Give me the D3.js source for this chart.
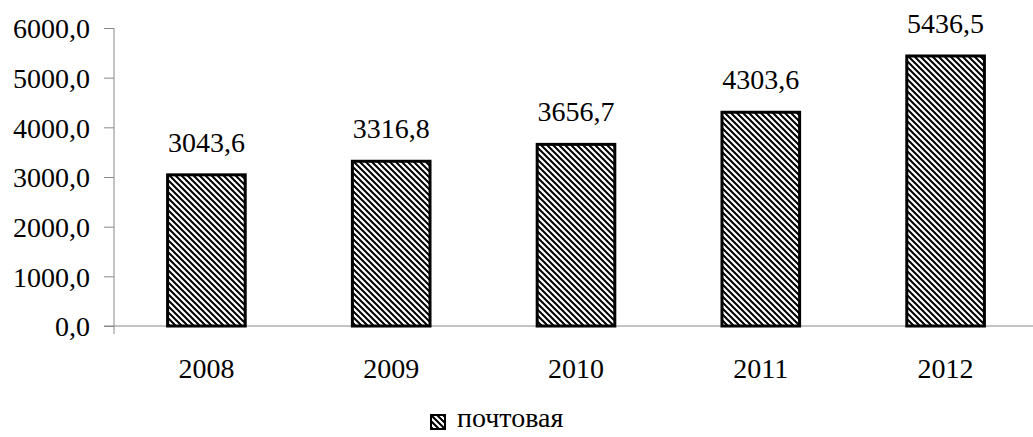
<!DOCTYPE html>
<html>
<head>
<meta charset="utf-8">
<script src="https://cdn.jsdelivr.net/npm/d3@7"></script>
<style>
  body { margin: 0; background: #fff; }
</style>
</head>
<body>
<svg width="1033" height="437"></svg>
<script>
const years = ["2008", "2009", "2010", "2011", "2012"];
const values = [3043.6, 3316.8, 3656.7, 4303.6, 5436.5];
const yTicks = [0, 1000, 2000, 3000, 4000, 5000, 6000];
const seriesName = "почтовая";

const svg = d3.select("svg");
const fmt = v => d3.format(".1f")(v).replace(".", ",");
const FONT = "'Liberation Serif', 'Times New Roman', serif";
const FS = "28px";

// hatch pattern
const pat = svg.append("defs")
  .append("pattern")
  .attr("id", "hatch")
  .attr("patternUnits", "userSpaceOnUse")
  .attr("width", 6)
  .attr("height", 6);
pat.append("rect").attr("width", 6).attr("height", 6).attr("fill", "#fff");
pat.append("path")
  .attr("d", "M-1,-1 L7,7 M-4,2 L1,7 M2,-4 L7,1")
  .attr("stroke", "#000")
  .attr("stroke-width", 2);

const x = d3.scaleBand()
  .domain(years)
  .range([114, 1038])
  .paddingInner(0.58)
  .paddingOuter(0.29);

const y = d3.scaleLinear()
  .domain([0, 6000])
  .range([326, 28]);

// y axis
const axisY = d3.axisLeft(y)
  .tickValues(yTicks)
  .tickSize(10)
  .tickPadding(14)
  .tickFormat(fmt);

const gy = svg.append("g")
  .attr("transform", "translate(114,0)")
  .call(axisY);
gy.select(".domain").remove();
gy.append("line")
  .attr("x1", 0).attr("x2", 0)
  .attr("y1", 28).attr("y2", 334)
  .attr("stroke", "#888");
gy.selectAll(".tick line").attr("stroke", "#888");
gy.selectAll(".tick text")
  .style("font-family", FONT)
  .style("font-size", FS)
  .attr("fill", "#000")
  .attr("dy", "0.35em");

// x axis line
svg.append("line")
  .attr("x1", 104).attr("x2", 1033)
  .attr("y1", 326).attr("y2", 326)
  .attr("stroke", "#888");

// x labels
svg.selectAll("text.year")
  .data(years)
  .enter()
  .append("text")
  .attr("class", "year")
  .attr("x", d => x(d) + x.bandwidth() / 2)
  .attr("y", 378)
  .attr("text-anchor", "middle")
  .style("font-family", FONT)
  .style("font-size", FS)
  .text(d => d);

// bars
svg.selectAll("rect.bar")
  .data(values)
  .enter()
  .append("rect")
  .attr("class", "bar")
  .attr("x", (d, i) => x(years[i]))
  .attr("y", d => y(d))
  .attr("width", x.bandwidth())
  .attr("height", d => y(0) - y(d))
  .attr("fill", "url(#hatch)")
  .attr("stroke", "#000")
  .attr("stroke-width", 3);

// value labels
svg.selectAll("text.val")
  .data(values)
  .enter()
  .append("text")
  .attr("class", "val")
  .attr("x", (d, i) => x(years[i]) + x.bandwidth() / 2)
  .attr("y", d => y(d) - 23)
  .attr("text-anchor", "middle")
  .style("font-family", FONT)
  .style("font-size", FS)
  .text(d => fmt(d));

// legend
const lg = svg.append("g").attr("transform", "translate(431,415)");
lg.append("rect")
  .attr("width", 14)
  .attr("height", 14)
  .attr("fill", "url(#hatch)")
  .attr("stroke", "#000")
  .attr("stroke-width", 2);
lg.append("text")
  .attr("x", 26)
  .attr("y", 12)
  .style("font-family", FONT)
  .style("font-size", FS)
  .text(seriesName);
</script>
</body>
</html>
